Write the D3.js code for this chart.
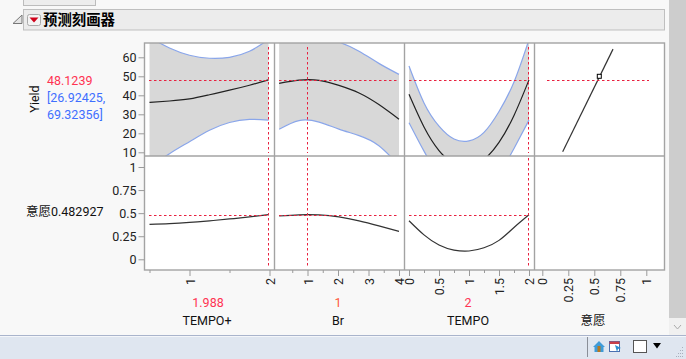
<!DOCTYPE html>
<html>
<head>
<meta charset="utf-8">
<script src="https://cdn.jsdelivr.net/npm/d3@7"></script>
<style>
  html, body { margin: 0; padding: 0; background: #f8f8f8; overflow: hidden; }
  svg { display: block; }
  text { font-family: Roboto, "Noto Sans CJK SC", sans-serif; }
  .axis text { font-size: 12.5px; fill: #222; font-family: Roboto, sans-serif; }
  .axis path { display: none; }
  .axis line { stroke: #9a9a9a; }
</style>
</head>
<body>
<svg id="chart" width="686" height="359"></svg>
<script>
// tick labels
const yieldTicks = [10, 20, 30, 40, 50, 60];
const desireTicks = [0, 0.25, 0.5, 0.75, 1];
const tempoPlusTicks = [1, 2];
const tempoPlusMinor = [0.5, 1.5];
const brTicks = [1, 2, 3, 4];
const brMinor = [0.5, 1.5, 2.5, 3.5];
const tempoTicks = [0, 0.5, 1, 1.5, 2];
const tempoMinor = [0.25, 0.75, 1.25, 1.75];

// current settings
const currentTempoPlus = 1.988;
const currentBr = 1;
const currentTempo = 2;
const currentYield = 48.1239;
const currentDesire = 0.482927;

// TEMPO+ profile, read at even steps
const tpX = [0.5, 0.75, 1, 1.25, 1.5, 1.75, 1.988];
const tpYield = [36.3, 37, 38.1, 40.3, 42.7, 45.3, 48.12];
const tpUpper = [70.5, 64.9, 61.1, 59.5, 60, 63.2, 69.32];
const tpLower = [2, 9.3, 15.6, 21.6, 25.7, 27.3, 26.92];
const tpDesire = [0.379, 0.386, 0.399, 0.417, 0.437, 0.459, 0.483];

// Br profile
const brX = [0.07, 0.72, 1.38, 2.03, 2.69, 3.34, 4];
const brYield = [46.3, 48, 47.9, 45.2, 41.2, 35.1, 27.4];
const brUpper = [70.5, 71.5, 70.5, 68, 63.2, 56.8, 51];
const brLower = [22.1, 26.7, 25.9, 22.2, 18.8, 13.5, 3];
const brDesire = [0.469, 0.482, 0.481, 0.46, 0.417, 0.362, 0.303];

// TEMPO profile
const tX = [0, 0.25, 0.5, 0.75, 1, 1.25, 1.5, 1.75, 2];
const tYield = [40.5, 23.3, 10.9, 4.1, 2.5, 6.2, 15.2, 29.4, 48.12];
const tUpper = [55.4, 36, 23.8, 17, 16, 20.5, 31.5, 47, 69.32];
const tLower = [25.6, 10.6, -2, -9, -11, -8, -1, 12, 26.92];
const tDesire = [0.418, 0.265, 0.155, 0.1, 0.09, 0.125, 0.205, 0.345, 0.483];

// desirability function
const dfX = [0.196, 0.68];
const dfYield = [10.3, 64.3];
const dfMark = [0.548, 50];

let svg = d3.select("#chart");

const red = "#e8203f", blue = "#8aa6ea", frame = "#a3a3a3";
const panelTop = 43, panelMid = 156, panelBottom = 270;
const cols = [144.5, 274.5, 404.5, 534.5, 664.5];

// window chrome
svg.append("rect").attr("x", 23.5).attr("y", -5).attr("width", 72).attr("height", 10.5)
    .attr("fill", "#ededed").attr("stroke", "#bcbcbc");
svg.append("rect").attr("x", 23.5).attr("y", 9.5).attr("width", 641).attr("height", 20.5)
    .attr("fill", "#ececec").attr("stroke", "#bfbfbf");
svg.append("path").attr("d", "M13,23.5 L22,23.5 L22,15 Z").attr("fill", "#e4e4e4").attr("stroke", "#777");
svg.append("rect").attr("x", 27.5).attr("y", 14.5).attr("width", 13).attr("height", 11).attr("rx", 2)
    .attr("fill", "#f4f4f4").attr("stroke", "#aaa");
svg.append("path").attr("d", "M29.5,17.5 L38.5,17.5 L34,22.5 Z").attr("fill", "#d0021b");
svg.append("text").attr("x", 43).attr("y", 25)
    .style("font-family", "'Noto Sans CJK SC'").style("font-size", "14.4px").style("font-weight", "bold")
    .attr("fill", "#000").text("预测刻画器");

svg.append("rect").attr("x", 669).attr("y", 0).attr("width", 17).attr("height", 318).attr("fill", "#cdcdcd");
svg.append("rect").attr("x", 669).attr("y", 318).attr("width", 17).attr("height", 17).attr("fill", "#f0f0f0");
svg.append("path").attr("d", "M674,325 L677.5,329 L681,325").attr("fill", "none").attr("stroke", "#aaa");
svg.append("rect").attr("x", 0).attr("y", 335).attr("width", 686).attr("height", 24).attr("fill", "#dfe6f0");
svg.append("line").attr("x1", 0).attr("x2", 686).attr("y1", 335.5).attr("y2", 335.5).attr("stroke", "#a9b4cc");
svg.append("line").attr("x1", 0).attr("x2", 686).attr("y1", 336.5).attr("y2", 336.5).attr("stroke", "#f4f6fa");
svg.append("line").attr("x1", 587.5).attr("x2", 587.5).attr("y1", 337).attr("y2", 357).attr("stroke", "#8a8f98");

// home and table icons
svg.append("path").attr("d", "M593,347 L599,341 L605,347 L603.5,347 L603.5,352 L594.5,352 L594.5,347 Z").attr("fill", "#3f9bd8");
svg.append("rect").attr("x", 597.5).attr("y", 346).attr("width", 3).attr("height", 6).attr("fill", "#b5791f");
svg.append("rect").attr("x", 609.5).attr("y", 341.5).attr("width", 10).attr("height", 10).attr("fill", "#fff").attr("stroke", "#4a6fb0");
svg.append("rect").attr("x", 609.5).attr("y", 341.5).attr("width", 10).attr("height", 2.5).attr("fill", "#c8404a");
svg.append("path").attr("d", "M615,345 L621,348 L618,349 L617,352 Z").attr("fill", "#2a8fd0");
svg.append("rect").attr("x", 633.5).attr("y", 340.5).attr("width", 13).attr("height", 12).attr("fill", "#fff").attr("stroke", "#555");
svg.append("path").attr("d", "M653,343 L661,343 L657,348.5 Z").attr("fill", "#000");

// resize grip
[[682, 347], [680, 350], [682, 350], [678, 353], [680, 353], [682, 353], [676, 356], [678, 356], [680, 356], [682, 356]].forEach(d => {
    svg.append("rect").attr("x", d[0]).attr("y", d[1]).attr("width", 1).attr("height", 1).attr("fill", "#a8b0bc");
});

// panels
svg.append("rect").attr("x", cols[0]).attr("y", panelTop).attr("width", cols[4] - cols[0]).attr("height", panelBottom - panelTop).attr("fill", "#fff");

let yYield = d3.scaleLinear().domain([10, 60]).range([152.3, 57.3]);
let yDesire = d3.scaleLinear().domain([0, 1]).range([259.3, 167]);

let xTempoPlus = d3.scaleLinear().domain([0.5, 2]).range([149.5, 269.5]);
let xBr = d3.scaleLinear().domain([1, 4]).range([307.5, 399]);
let xTempo = d3.scaleLinear().domain([0, 2]).range([409, 529]);
let xDesire = d3.scaleLinear().domain([0, 1]).range([542.3, 646.3]);

let defs = svg.append("defs");
defs.append("clipPath").attr("id", "clipTop").append("rect")
    .attr("x", cols[0]).attr("y", panelTop).attr("width", cols[4] - cols[0]).attr("height", panelMid - panelTop);

function pairs(xs, ys) {
    return xs.map((d, i) => [d, ys[i]]);
}

let plot = svg.append("g").attr("clip-path", "url(#clipTop)");

function drawProfile(x, xs, upper, lower, mean) {
    let line = d3.line().x(d => x(d[0])).y(d => yYield(d[1])).curve(d3.curveNatural);
    let up = line(pairs(xs, upper));
    let lo = line(pairs(xs, lower));
    let band = d3.area().x(d => x(d[0])).y0(d => yYield(d[2])).y1(d => yYield(d[1])).curve(d3.curveNatural);
    plot.append("path").attr("d", band(xs.map((d, i) => [d, upper[i], lower[i]]))).attr("fill", "#d8d8d8");
    plot.append("path").attr("d", up).attr("fill", "none").attr("stroke", blue).attr("stroke-width", 1.2);
    plot.append("path").attr("d", lo).attr("fill", "none").attr("stroke", blue).attr("stroke-width", 1.2);
    plot.append("path").attr("d", line(pairs(xs, mean))).attr("fill", "none").attr("stroke", "#222").attr("stroke-width", 1.2);
}

drawProfile(xTempoPlus, tpX, tpUpper, tpLower, tpYield);
drawProfile(xBr, brX, brUpper, brLower, brYield);
drawProfile(xTempo, tX, tUpper, tLower, tYield);

function drawDesire(x, data) {
    let line = d3.line().x(d => x(d[0])).y(d => yDesire(d[1])).curve(d3.curveNatural);
    svg.append("path").attr("d", line(data)).attr("fill", "none").attr("stroke", "#333").attr("stroke-width", 1.2);
}

drawDesire(xTempoPlus, pairs(tpX, tpDesire));
drawDesire(xBr, pairs(brX, brDesire));
drawDesire(xTempo, pairs(tX, tDesire));

// desirability function panel
let dfLine = d3.line().x(d => xDesire(d[0])).y(d => yYield(d[1]));
svg.append("path").attr("d", dfLine(pairs(dfX, dfYield))).attr("fill", "none").attr("stroke", "#333").attr("stroke-width", 1.2);

// crosshairs
function dashLine(x1, x2, y1, y2) {
    svg.append("line").attr("x1", x1).attr("x2", x2).attr("y1", y1).attr("y2", y2)
        .attr("stroke", red).attr("stroke-width", 1).attr("stroke-dasharray", "2.5,2.5");
}

[[xTempoPlus, currentTempoPlus, 149, 269], [xBr, currentBr, 279, 399], [xTempo, currentTempo, 409, 529]].forEach(p => {
    let px = Math.round(p[0](p[1])) - 0.5;
    dashLine(px, px, 47, 153);
    dashLine(px, px, 158, 267);
    dashLine(p[2], p[3], Math.round(yYield(currentYield)) + 0.5, Math.round(yYield(currentYield)) + 0.5);
    dashLine(p[2], p[3], Math.round(yDesire(currentDesire)) + 0.5, Math.round(yDesire(currentDesire)) + 0.5);
});
dashLine(547, 649, Math.round(yYield(currentYield)) + 0.5, Math.round(yYield(currentYield)) + 0.5);

svg.append("rect").attr("x", xDesire(dfMark[0]) - 2).attr("y", yYield(dfMark[1]) - 2)
    .attr("width", 4).attr("height", 4).attr("fill", "#fff").attr("stroke", "#000").attr("stroke-width", 1);

// frames
svg.append("rect").attr("x", cols[0]).attr("y", panelTop).attr("width", cols[4] - cols[0]).attr("height", panelBottom - panelTop)
    .attr("fill", "none").attr("stroke", frame).attr("stroke-width", 1.4);
cols.slice(1, 4).forEach(c => {
    svg.append("line").attr("x1", c).attr("x2", c).attr("y1", panelTop).attr("y2", panelBottom).attr("stroke", frame).attr("stroke-width", 1.4);
});
svg.append("line").attr("x1", cols[0]).attr("x2", cols[4]).attr("y1", panelMid).attr("y2", panelMid).attr("stroke", frame).attr("stroke-width", 1.4);

// y axes
svg.append("g").attr("class", "axis").attr("transform", `translate(${cols[0]},0)`)
    .call(d3.axisLeft(yYield).tickValues(yieldTicks).tickSize(6).tickPadding(2));
svg.append("g").attr("class", "axis").attr("transform", `translate(${cols[0]},0)`)
    .call(d3.axisLeft(yDesire).tickValues(desireTicks).tickSize(6).tickPadding(2).tickFormat(d => d));

// x axes
function xAxis(scale, ticks, minor) {
    let g = svg.append("g").attr("class", "axis").attr("transform", `translate(0,${panelBottom})`)
        .call(d3.axisBottom(scale).tickValues(ticks).tickSize(6).tickFormat(d => d));
    g.selectAll("text")
        .attr("transform", "rotate(-90)")
        .attr("text-anchor", "end")
        .attr("x", -8)
        .attr("y", 0)
        .attr("dy", "0.36em");
    if (minor.length) {
        svg.append("g").attr("class", "axis").attr("transform", `translate(0,${panelBottom})`)
            .call(d3.axisBottom(scale).tickValues(minor).tickSize(3).tickFormat(""));
    }
}

xAxis(xTempoPlus, tempoPlusTicks, tempoPlusMinor);
xAxis(xBr, brTicks, brMinor);
xAxis(xTempo, tempoTicks, tempoMinor);
xAxis(xDesire, desireTicks, []);

// labels
function label(x, y, txt, color, anchor) {
    return svg.append("text").attr("x", x).attr("y", y).attr("fill", color)
        .attr("text-anchor", anchor || "start").style("font-size", "12.5px").text(txt);
}

svg.append("text").attr("transform", "translate(39,99) rotate(-90)").attr("text-anchor", "middle")
    .style("font-size", "12.5px").attr("fill", "#111").text("Yield");
label(47, 85, currentYield, "#ff3352");
label(47, 102, "[26.92425,", "#3f6fff");
label(47, 119, "69.32356]", "#3f6fff");
label(26, 216, "意愿" + currentDesire, "#111");

label(208, 307, currentTempoPlus, "#ff3352", "middle");
label(338, 307, currentBr, "#ff5a3c", "middle");
label(468, 307, currentTempo, "#ff3352", "middle");
label(207, 325, "TEMPO+", "#111", "middle");
label(338, 325, "Br", "#111", "middle");
label(468, 325, "TEMPO", "#111", "middle");
label(593, 325, "意愿", "#111", "middle");
</script>
</body>
</html>
